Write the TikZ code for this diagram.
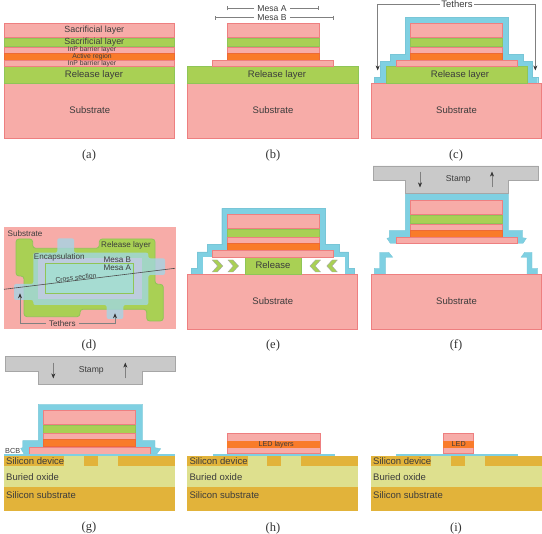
\documentclass[tikz,border=0pt]{standalone}
\usepackage{fontspec}
\setmainfont{Liberation Serif}
\setsansfont{Liberation Sans}
\usetikzlibrary{arrows.meta}
\definecolor{pinkfill}{HTML}{F7ACA8}
\definecolor{pinkline}{HTML}{EE7F80}
\definecolor{greenfill}{HTML}{A9D054}
\definecolor{greenline}{HTML}{8FC557}
\definecolor{orangefill}{HTML}{F97B2A}
\definecolor{orangeline}{HTML}{EE6A35}
\definecolor{tetherblue}{HTML}{7FD0E2}
\definecolor{encapblue}{HTML}{A0D8EA}
\definecolor{mesabfill}{HTML}{BDCCDE}
\definecolor{mesaafill}{HTML}{A6DCD2}
\definecolor{stampgray}{HTML}{C9C9C9}
\definecolor{goldfill}{HTML}{E2B33A}
\definecolor{oxidefill}{HTML}{DEE08E}
\definecolor{textdark}{HTML}{3C3C3C}
\begin{document}
\begin{tikzpicture}[
        x=1pt, y=-1pt,
        pinklayer/.style={draw=pinkline, fill=pinkfill, line width=.8pt},
        greenlayer/.style={draw=greenline, fill=greenfill, line width=.8pt},
        orangelayer/.style={draw=orangeline, fill=orangefill, line width=.8pt},
        tetherlayer/.style={draw=tetherblue!95!black, fill=tetherblue, line width=.4pt},
        stampbody/.style={draw=gray!70, fill=stampgray, line width=.6pt},
        chevronmark/.style={draw=gray!70, fill=greenfill, line width=.4pt},
        labeltext/.style={text=textdark, inner sep=0pt, font=\sffamily\fontsize{9.5}{10}\selectfont},
        smalltext/.style={text=textdark, inner sep=0pt, font=\sffamily\fontsize{6.8}{7}\selectfont},
        toptext/.style={text=textdark, inner sep=0pt, font=\sffamily\fontsize{8.1}{9}\selectfont},
        captiontext/.style={text=black!80, inner sep=0pt, font=\rmfamily\fontsize{12.5}{13}\selectfont},
        leadline/.style={draw=black!50, line width=.6pt},
        tetherarrow/.style={leadline, -{Stealth[length=5pt,width=4pt,color=black!80]}},
        dimline/.style={leadline, -{Bar[width=4pt]}}
    ]
        \useasboundingbox (0,0) rectangle (542,534);

        % Tether coats, drawn first so the layers sit on top
        \draw[tetherlayer] (374,83.5) -- (374,77.5) -- (380,77.5) -- (380,61.5) -- (390,61.5) -- (390,54.3) -- (405.3,54.3) -- (405.3,17.5) -- (508.5,17.5) -- (508.5,54.3) -- (523,54.3) -- (523,61.5) -- (532,61.5) -- (532,77.5) -- (537.7,77.5) -- (537.7,83.5) -- cycle;
        \draw[tetherlayer] (191,274.3) -- (191,268.3) -- (197,268.3) -- (197,252) -- (207,252) -- (207,244.7) -- (221.7,244.7) -- (221.7,208.3) -- (325.3,208.3) -- (325.3,244.7) -- (339.5,244.7) -- (339.5,252) -- (348.5,252) -- (348.5,268.3) -- (354,268.3) -- (354,274.3) -- cycle;
        \fill[white] (202.7,257.3) rectangle (345,274.3);
        \draw[tetherlayer] (405.3,193.3) -- (508.7,193.3) -- (508.7,230.7) -- (522.7,230.7) -- (522.7,237.7) -- (526.3,238.3) -- (523,243.3) -- (390.3,243.3) -- (387,238.3) -- (389.3,237.7) -- (389.3,230.7) -- (405.3,230.7) -- cycle;
        \draw[tetherlayer] (374.3,274.3) -- (374.3,268.3) -- (379.7,268.3) -- (379.7,252.3) -- (388.7,252.3) -- (392.7,257.3) -- (385.3,257.3) -- (385.3,274.3) -- cycle;
        \draw[tetherlayer] (537.7,274.3) -- (537.7,268.3) -- (532,268.3) -- (532,252.3) -- (524.7,252.3) -- (521,257.3) -- (527,257.3) -- (527,274.3) -- cycle;
        \draw[tetherlayer] (38.3,404.3) -- (142.7,404.3) -- (142.7,440.7) -- (155,440.7) -- (155,447.7) -- (160.7,448.7) -- (156.7,454) -- (24,454) -- (20.7,448.3) -- (22.7,447.7) -- (22.7,440.7) -- (38.3,440.7) -- cycle;

        % Substrates and release layers
        \foreach \x/\y/\i in {4.3/83.5/a, 187.5/83.5/b, 371/83.5/c, 187.3/274.3/e, 371/274.3/f} {
            \draw[pinklayer] (\x,\y) rectangle ++(170.5,54.7);
            \node[labeltext] (sub\i) at ([xshift=85.5pt,yshift=-27pt]\x,\y) {Substrate};
        }
        \draw[greenlayer] (4.3,66.5) rectangle (174.8,83);
        \draw[greenlayer] (187.5,66.5) rectangle (358,83);
        \draw[greenlayer] (386,66.5) rectangle (527,83);
        \draw[greenlayer] (245.3,257.3) rectangle (301,274.3);

        % Mesa stacks: top layer, spacer, barrier, active region, lower barrier
        \foreach \x/\y in {4.3/23.5, 227/23.5, 410.5/23.5, 227.3/214, 410.3/200.7, 43.3/410.3} {
            \pgfmathsetmacro{\wid}{\x<5 ? 170.5 : 92}
            \draw[pinklayer] (\x,\y) rectangle ++(\wid,14);
            \draw[greenlayer] (\x,\y+15) rectangle ++(\wid,8);
            \draw[pinklayer] (\x,\y+23.5) rectangle ++(\wid,6);
            \draw[orangelayer] (\x,\y+29.5) rectangle ++(\wid,7);
        }
        \foreach \x/\y in {212.5/60, 396/60, 212.7/250.7, 396/237.3, 29.3/447.5} {
            \draw[pinklayer] (\x,\y) rectangle ++(121,6.5);
        }
        \draw[pinklayer] (4.3,60) rectangle (174.8,66.5);

        % Release front in panel e
        \foreach \x/\d in {212.3/1, 228/1, 320.5/-1, 337.3/-1} {
            \draw[chevronmark] (\x,260) -- ++(\d*5,0) -- ++(\d*5.5,6) -- ++(-\d*5.5,6) -- ++(-\d*5,0) -- ++(\d*5.3,-6) -- cycle;
        }

        % Labels of panel a and the release layers
        \node[labeltext, font=\sffamily\fontsize{8.9}{9}\selectfont] (sacA) at (94.3,30.7) {Sacrificial layer};
        \node[labeltext, font=\sffamily\fontsize{8.9}{9}\selectfont] (sacB) at (94.3,42) {Sacrificial layer};
        \node[smalltext] (inpA) at (92,50) {InP barrier layer};
        \node[smalltext] (active) at (92,56.7) {Active region};
        \node[smalltext] (inpB) at (92,63.3) {InP barrier layer};
        \node[labeltext] (relA) at (94,74.7) {Release layer};
        \node[labeltext] (relB) at (277,74.7) {Release layer};
        \node[labeltext] (relC) at (460,74.7) {Release layer};
        \node[labeltext] (relE) at (273,265.3) {Release};

        % Mesa widths in panel b
        \node[labeltext, font=\sffamily\fontsize{8.6}{9}\selectfont] (mesaA) at (272,8.3) {Mesa A};
        \node[labeltext, font=\sffamily\fontsize{8.6}{9}\selectfont] (mesaB) at (272,17.7) {Mesa B};
        \coordinate (mesaAleft) at (226.5,8.3);
        \coordinate (mesaAright) at (318.5,8.3);
        \coordinate (mesaBleft) at (214.5,17.7);
        \coordinate (mesaBright) at (334,17.7);
        \draw[dimline] ([xshift=-3pt]mesaA.west) -- (mesaAleft);
        \draw[dimline] ([xshift=3pt]mesaA.east) -- (mesaAright);
        \draw[dimline] ([xshift=-3pt]mesaB.west) -- (mesaBleft);
        \draw[dimline] ([xshift=3pt]mesaB.east) -- (mesaBright);

        % Tethers in panel c
        \node[labeltext] (tethersC) at (457,4) {Tethers};
        \coordinate (tetherCleft) at (377.7,70.5);
        \coordinate (tetherCright) at (535.3,70.5);
        \draw[tetherarrow] ([xshift=-1.5pt]tethersC.west) -| (tetherCleft);
        \draw[tetherarrow] ([xshift=1.5pt]tethersC.east) -| (tetherCright);

        % Top view, panel d
        \fill[pinkfill] (4,227.3) rectangle (175.7,329.3);
        \draw[greenlayer, rounded corners=3pt] (16,239) -- (32.7,239) -- (32.7,248.3) -- (99.3,248.3) -- (99.3,239) -- (155,239) -- (155,284.3) -- (163.3,284.3) -- (163.3,321) -- (146.7,321) -- (146.7,309.3) -- (80,309.3) -- (80,316.7) -- (24,316.7) -- (24,276) -- (16,276) -- cycle;
        \fill[encapblue, opacity=.75, rounded corners=2pt] (33.3,252.7) -- (57.3,252.7) -- (57.3,238.3) -- (74,238.3) -- (74,252.7) -- (148.3,252.7) -- (148.3,258.3) -- (165,258.3) -- (165,275) -- (148.3,275) -- (148.3,305) -- (123.3,305) -- (123.3,319) -- (106.7,319) -- (106.7,305) -- (33.3,305) -- (33.3,300) -- (14,300) -- (14,284) -- (33.3,284) -- cycle;
        \fill[mesabfill] (38.3,258.3) rectangle (141.7,299.3);
        \draw[draw=greenline, fill=mesaafill, line width=.8pt] (45.7,263.3) rectangle (133.3,293.3);
        \node[toptext] (subD) at (25,233.3) {Substrate};
        \node[toptext] (relD) at (126,245.3) {Release layer};
        \node[toptext] (encD) at (59.3,257) {Encapsulation};
        \node[toptext] (mesaBD) at (117.3,260) {Mesa B};
        \node[toptext] (mesaAD) at (117.3,267.9) {Mesa A};
        \coordinate (crossleft) at (4,289.3);
        \coordinate (crossright) at (175,268.3);
        \draw[draw=black!70, line width=.6pt] (crossleft) -- (crossright);
        \node[smalltext, rotate=7] (crossD) at (76,277.7) {Cross section};
        \node[toptext] (tethersD) at (62.3,323.7) {Tethers};
        \coordinate (tetherDleft) at (20,293.3);
        \coordinate (tetherDright) at (115,313.3);
        \draw[tetherarrow] ([xshift=-3pt]tethersD.west) -| (tetherDleft);
        \draw[tetherarrow] ([xshift=3pt]tethersD.east) -| (tetherDright);

        % Stamps in panels f and g
        \draw[stampbody] (373,166) -- (538.7,166) -- (538.7,180.7) -- (508.7,180.7) -- (508.7,193.3) -- (405.3,193.3) -- (405.3,180.7) -- (373,180.7) -- cycle;
        \draw[stampbody] (5.7,356.7) -- (175,356.7) -- (175,371.3) -- (142.7,371.3) -- (142.7,384.3) -- (38.3,384.3) -- (38.3,371.3) -- (5.7,371.3) -- cycle;
        \node[labeltext, font=\sffamily\fontsize{8.6}{9}\selectfont] (stampF) at (458.3,179.7) {Stamp};
        \node[labeltext, font=\sffamily\fontsize{8.6}{9}\selectfont] (stampG) at (91.3,370) {Stamp};
        \foreach \x/\y/\i in {420/171.7/F, 53.3/362.7/G} {
            \coordinate (down\i a) at (\x,\y);
            \coordinate (down\i b) at (\x,\y+15.7);
            \draw[tetherarrow, line width=.5pt] (down\i a) -- (down\i b);
        }
        \foreach \x/\y/\i in {492/187.3/F, 125.3/378.3/G} {
            \coordinate (up\i a) at (\x,\y);
            \coordinate (up\i b) at (\x,\y-15.7);
            \draw[tetherarrow, line width=.5pt] (up\i a) -- (up\i b);
        }

        % Silicon wafers in panels g, h, i
        \foreach \x/\i in {4/g, 187.3/h, 371/i} {
            \fill[goldfill] (\x,456) rectangle ++(171,55.5);
            \fill[oxidefill] (\x,465.7) rectangle ++(171,21.6);
            \fill[oxidefill] (\x+60.3,456) rectangle ++(19.7,9.7);
            \fill[oxidefill] (\x+94,456) rectangle ++(20,9.7);
            \node[labeltext, anchor=west] (device\i) at (\x+2,461) {Silicon device};
            \node[labeltext, anchor=west] (oxide\i) at (\x+2,477.3) {Buried oxide};
            \node[labeltext, anchor=west] (silicon\i) at (\x+2,494.7) {Silicon substrate};
        }

        % Bonding layer and printed LEDs
        \fill[tetherblue] (4,454) rectangle (175,456);
        \fill[tetherblue] (213,453.7) rectangle (335,456);
        \fill[tetherblue] (396.3,453.7) rectangle (518,456);
        \node[smalltext, font=\sffamily\fontsize{7.3}{8}\selectfont, anchor=west] (bcb) at (5,451.3) {BCB};
        \foreach \x/\w in {227.3/92.7, 443/30.7} {
            \draw[pinklayer] (\x,433.3) rectangle ++(\w,20);
            \fill[orangefill] (\x,440.7) rectangle ++(\w,7);
        }
        \node[smalltext, font=\sffamily\fontsize{7.2}{8}\selectfont] (ledH) at (276.2,444.2) {LED layers};
        \node[smalltext, font=\sffamily\fontsize{7.2}{8}\selectfont] (ledI) at (458.7,444.2) {LED};

        % Captions
        \foreach \x/\y/\lbl in {89/155/a, 273/155/b, 456/155/c, 89/345/d, 273/345/e, 456/345/f, 89/528/g, 273/528/h, 456/528/i} {
            \node[captiontext] (cap\lbl) at (\x,\y) {(\lbl)};
        }
    \end{tikzpicture}
\end{document}
